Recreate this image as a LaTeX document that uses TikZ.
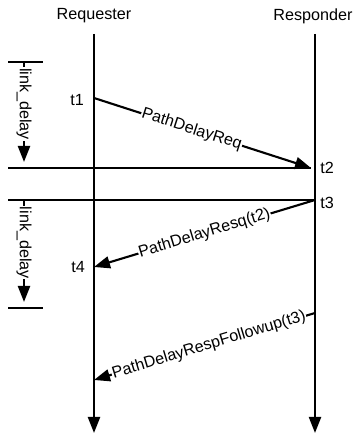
\documentclass[tikz,border=0pt]{standalone}
\usepackage{fontspec}
\setmainfont{Liberation Sans}
\usepackage{tikz}
\usetikzlibrary{arrows.meta}
\usetikzlibrary{calc}
\tikzset{
every picture/.style={line width=1.5pt, >={Triangle[length=0.4cm,width=0.3cm]}},
%%%%%%%%%%  Node styles
emptynode/.style={circle,minimum size=0pt, inner sep=0pt, outer sep=0},
party/.style={inner sep=1pt, font=\fontsize{11.5}{13}\selectfont},
stamp/.style={inner sep=1pt, font=\fontsize{11.5}{13}\selectfont},
%%%% messages and delays
msg/.style={->, shorten >=0pt},
msglabel/.style={fill=white, sloped, inner sep=0.5pt, font=\fontsize{11.5}{13}\selectfont},
delaylabel/.style={fill=white, rotate=-90, inner sep=0.5pt, font=\fontsize{11.5}{13}\selectfont},
}

\begin{document}
\begin{tikzpicture}
\useasboundingbox (0,0) rectangle (8.825,10.925);
%% parties
\node[party] (req) at (2.35,10.525) {Requester};
\node[party] (resp) at (7.825,10.525) {Responder};
\node[emptynode] (reqtop) at (2.35,10.075) {};
\node[emptynode] (reqbot) at (2.35,0.1) {};
\node[emptynode] (resptop) at (7.875,10.075) {};
\node[emptynode] (respbot) at (7.875,0.1) {};
\draw[->] (reqtop) -- (reqbot);
\draw[->] (resptop) -- (respbot);
%% message end points
\node[emptynode] (a) at (2.35,8.475) {};
\node[emptynode] (b) at (7.775,6.725) {};
\node[emptynode] (c) at (7.875,5.925) {};
\node[emptynode] (d) at (2.35,4.25) {};
\node[emptynode] (e) at (7.875,3.1) {};
\node[emptynode] (f) at (2.35,1.425) {};
%% horizontal lines
\node[emptynode] (bl) at (0.2,6.725) {};
\node[emptynode] (cl) at (0.2,5.925) {};
\draw (bl) -- (b);
\draw (cl) -- (c);
%% messages
\draw[msg] (a) -- node[msglabel, pos=0.45] {PathDelayReq} (b);
\draw[msg] (c) -- node[msglabel] {PathDelayResq(t2)} (d);
\draw[msg] (e) -- node[msglabel, pos=0.48] {PathDelayRespFollowup(t3)} (f);
%% time stamps
\node[stamp] (t1) at (1.925,8.425) {t1};
\node[stamp] (t2) at (8.175,6.725) {t2};
\node[stamp] (t3) at (8.175,5.85) {t3};
\node[stamp] (t4) at (1.95,4.25) {t4};
%% link delay brackets
\node[emptynode] (p) at (0.2,9.375) {};
\node[emptynode] (q) at (1.075,9.375) {};
\draw (p) -- (q);
\node[emptynode] (r) at (0.6,9.375) {};
\node[emptynode] (s) at (0.6,6.875) {};
\draw[->] (r) -- node[delaylabel, pos=0.42] {link\_delay} (s);
\node[emptynode] (u) at (0.6,5.925) {};
\node[emptynode] (v) at (0.6,3.375) {};
\draw[->] (u) -- node[delaylabel, pos=0.42] {link\_delay} (v);
\node[emptynode] (w) at (0.2,3.225) {};
\node[emptynode] (x) at (1.075,3.225) {};
\draw (w) -- (x);
\end{tikzpicture}
\end{document}
